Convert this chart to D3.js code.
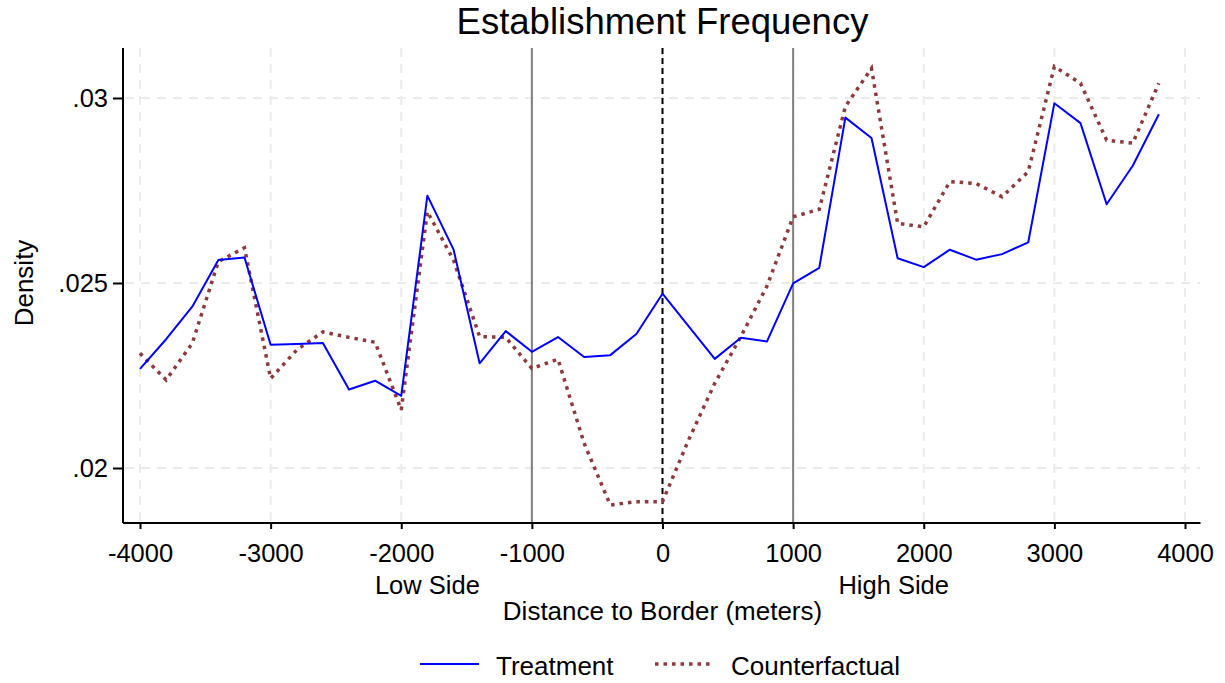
<!DOCTYPE html>
<html>
<head>
<meta charset="utf-8">
<script src="https://cdn.jsdelivr.net/npm/d3@7"></script>
<style>
  body { margin: 0; background: #fff; }
  svg { font-family: "Liberation Sans", Arial, sans-serif; }
  .grid line { stroke: #ebebeb; stroke-width: 2px; stroke-dasharray: 9,7; }
  .tick text { fill: #000; }
</style>
</head>
<body>
<svg id="chart" width="1225" height="683"></svg>
<script>
  // distance to border (meters)
  const distTreat = [-4000, -3800, -3600, -3400, -3200, -3000, -2800, -2600, -2400, -2200,
    -2000, -1800, -1600, -1400, -1200, -1000, -800, -600, -400, -200, 0, 400, 600, 800,
    1000, 1200, 1400, 1600, 1800, 2000, 2200, 2400, 2600, 2800, 3000, 3200, 3400, 3600, 3800];
  const treatment = [0.02268, 0.02348, 0.02436, 0.02562, 0.02569, 0.02333, 0.02335, 0.02338,
    0.02212, 0.02236, 0.02195, 0.02736, 0.02591, 0.02283, 0.02370, 0.02314, 0.02354, 0.02300,
    0.02305, 0.02362, 0.02471, 0.02295, 0.02352, 0.02342, 0.02499, 0.02541, 0.02947, 0.02892,
    0.02567, 0.02543, 0.02590, 0.02563, 0.02578, 0.02610, 0.02986, 0.02932, 0.02713, 0.02817,
    0.02956];

  const distCf = [-4000, -3800, -3600, -3400, -3200, -3000, -2800, -2600, -2400, -2200,
    -2000, -1800, -1600, -1400, -1200, -1000, -800, -600, -400, -200, 0, 200, 400, 600, 800,
    1000, 1200, 1400, 1600, 1800, 2000, 2200, 2400, 2600, 2800, 3000, 3200, 3400, 3600, 3800];
  const counterfactual = [0.02310, 0.02238, 0.02337, 0.02558, 0.02595, 0.02242, 0.02319,
    0.02368, 0.02353, 0.02340, 0.02157, 0.02693, 0.02562, 0.02355, 0.02353, 0.02269, 0.02294,
    0.02067, 0.01900, 0.01909, 0.01909, 0.02076, 0.02229, 0.02355, 0.02492, 0.02679, 0.02699,
    0.02977, 0.03080, 0.02661, 0.02652, 0.02774, 0.02769, 0.02733, 0.02801, 0.03085, 0.03040,
    0.02886, 0.02878, 0.03040];

  const xTicks = [-4000, -3000, -2000, -1000, 0, 1000, 2000, 3000, 4000];
  const yTicks = [0.02, 0.025, 0.03];
  const yTickLabels = [".02", ".025", ".03"];
  const sideLabels = [{ x: -1800, label: "Low Side" }, { x: 1770, label: "High Side" }];
  const bandLines = [-1000, 1000];
  const seriesNames = ["Treatment", "Counterfactual"];

  const width = 1225, height = 683;
  const margin = { left: 123, right: 25, top: 48, bottom: 161 };
  const fontSize = 25.5;

  const svg = d3.select("#chart");

  const x = d3.scaleLinear()
    .domain([-4000, 4000])
    .range([140, 1185]);
  const y = d3.scaleLinear()
    .domain([0.02, 0.03])
    .range([468, 98]);

  const plotBottom = height - margin.bottom + 1;

  // gridlines
  svg.append("g").attr("class", "grid")
    .selectAll("line").data(yTicks).join("line")
    .attr("x1", margin.left + 2).attr("x2", width - margin.right)
    .attr("y1", (d) => y(d)).attr("y2", (d) => y(d));
  svg.append("g").attr("class", "grid")
    .selectAll("line").data(xTicks).join("line")
    .attr("x1", (d) => x(d)).attr("x2", (d) => x(d))
    .attr("y1", margin.top).attr("y2", plotBottom - 1);

  // vertical reference lines
  svg.append("g").selectAll("line").data(bandLines).join("line")
    .attr("x1", (d) => x(d)).attr("x2", (d) => x(d))
    .attr("y1", margin.top).attr("y2", plotBottom)
    .attr("stroke", "#808080").attr("stroke-width", 2);
  svg.append("line")
    .attr("x1", x(0)).attr("x2", x(0))
    .attr("y1", margin.top).attr("y2", plotBottom)
    .attr("stroke", "#000").attr("stroke-width", 2)
    .attr("stroke-dasharray", "6,4");

  const line = d3.line()
    .x((d) => x(d[0]))
    .y((d) => y(d[1]));

  svg.append("path")
    .datum(d3.zip(distCf, counterfactual))
    .attr("fill", "none")
    .attr("stroke", "#8c3a3e")
    .attr("stroke-width", 3.5)
    .attr("stroke-dasharray", "3.5,5")
    .attr("d", line);

  svg.append("path")
    .datum(d3.zip(distTreat, treatment))
    .attr("fill", "none")
    .attr("stroke", "#0000ff")
    .attr("stroke-width", 2)
    .attr("stroke-linejoin", "round")
    .attr("d", line);

  // axes
  const xAxis = svg.append("g")
    .attr("transform", `translate(0,${plotBottom})`)
    .call(d3.axisBottom(x).tickValues(xTicks).tickSize(6).tickPadding(15)
      .tickFormat((d) => String(d)));
  xAxis.select(".domain").attr("d", `M${margin.left},0H${width - margin.right + 0.5}`)
    .attr("stroke-width", 2);
  xAxis.selectAll(".tick line").attr("stroke-width", 2);
  xAxis.selectAll("text").attr("font-size", fontSize).attr("font-family", "Liberation Sans, Arial, sans-serif");

  const yAxis = svg.append("g")
    .attr("transform", `translate(${margin.left},0)`)
    .call(d3.axisLeft(y).tickValues(yTicks).tickSize(10).tickPadding(5)
      .tickFormat((d, i) => yTickLabels[i]));
  yAxis.select(".domain").attr("d", `M0,${margin.top}V${plotBottom}`)
    .attr("stroke-width", 2);
  yAxis.selectAll(".tick line").attr("stroke-width", 2);
  yAxis.selectAll("text").attr("font-size", fontSize).attr("font-family", "Liberation Sans, Arial, sans-serif");

  // side labels
  svg.append("g").selectAll("text").data(sideLabels).join("text")
    .attr("x", (d) => x(d.x)).attr("y", 594)
    .attr("text-anchor", "middle").attr("font-size", fontSize)
    .text((d) => d.label);

  // titles
  svg.append("text")
    .attr("x", x(0)).attr("y", 34)
    .attr("text-anchor", "middle").attr("font-size", 36.5)
    .text("Establishment Frequency");
  svg.append("text")
    .attr("x", x(0)).attr("y", 620)
    .attr("text-anchor", "middle").attr("font-size", 26)
    .text("Distance to Border (meters)");
  svg.append("text")
    .attr("transform", `translate(33,${y(0.025)}) rotate(-90)`)
    .attr("text-anchor", "middle").attr("font-size", 26)
    .text("Density");

  // legend
  const legend = svg.append("g");
  legend.append("line")
    .attr("x1", 420).attr("x2", 479).attr("y1", 664).attr("y2", 664)
    .attr("stroke", "#0000ff").attr("stroke-width", 2);
  legend.append("text")
    .attr("x", 496).attr("y", 675).attr("font-size", 26)
    .text(seriesNames[0]);
  legend.append("line")
    .attr("x1", 655).attr("x2", 714).attr("y1", 664).attr("y2", 664)
    .attr("stroke", "#8c3a3e").attr("stroke-width", 3.5)
    .attr("stroke-dasharray", "3.5,5");
  legend.append("text")
    .attr("x", 731).attr("y", 675).attr("font-size", 26)
    .text(seriesNames[1]);
</script>
</body>
</html>
